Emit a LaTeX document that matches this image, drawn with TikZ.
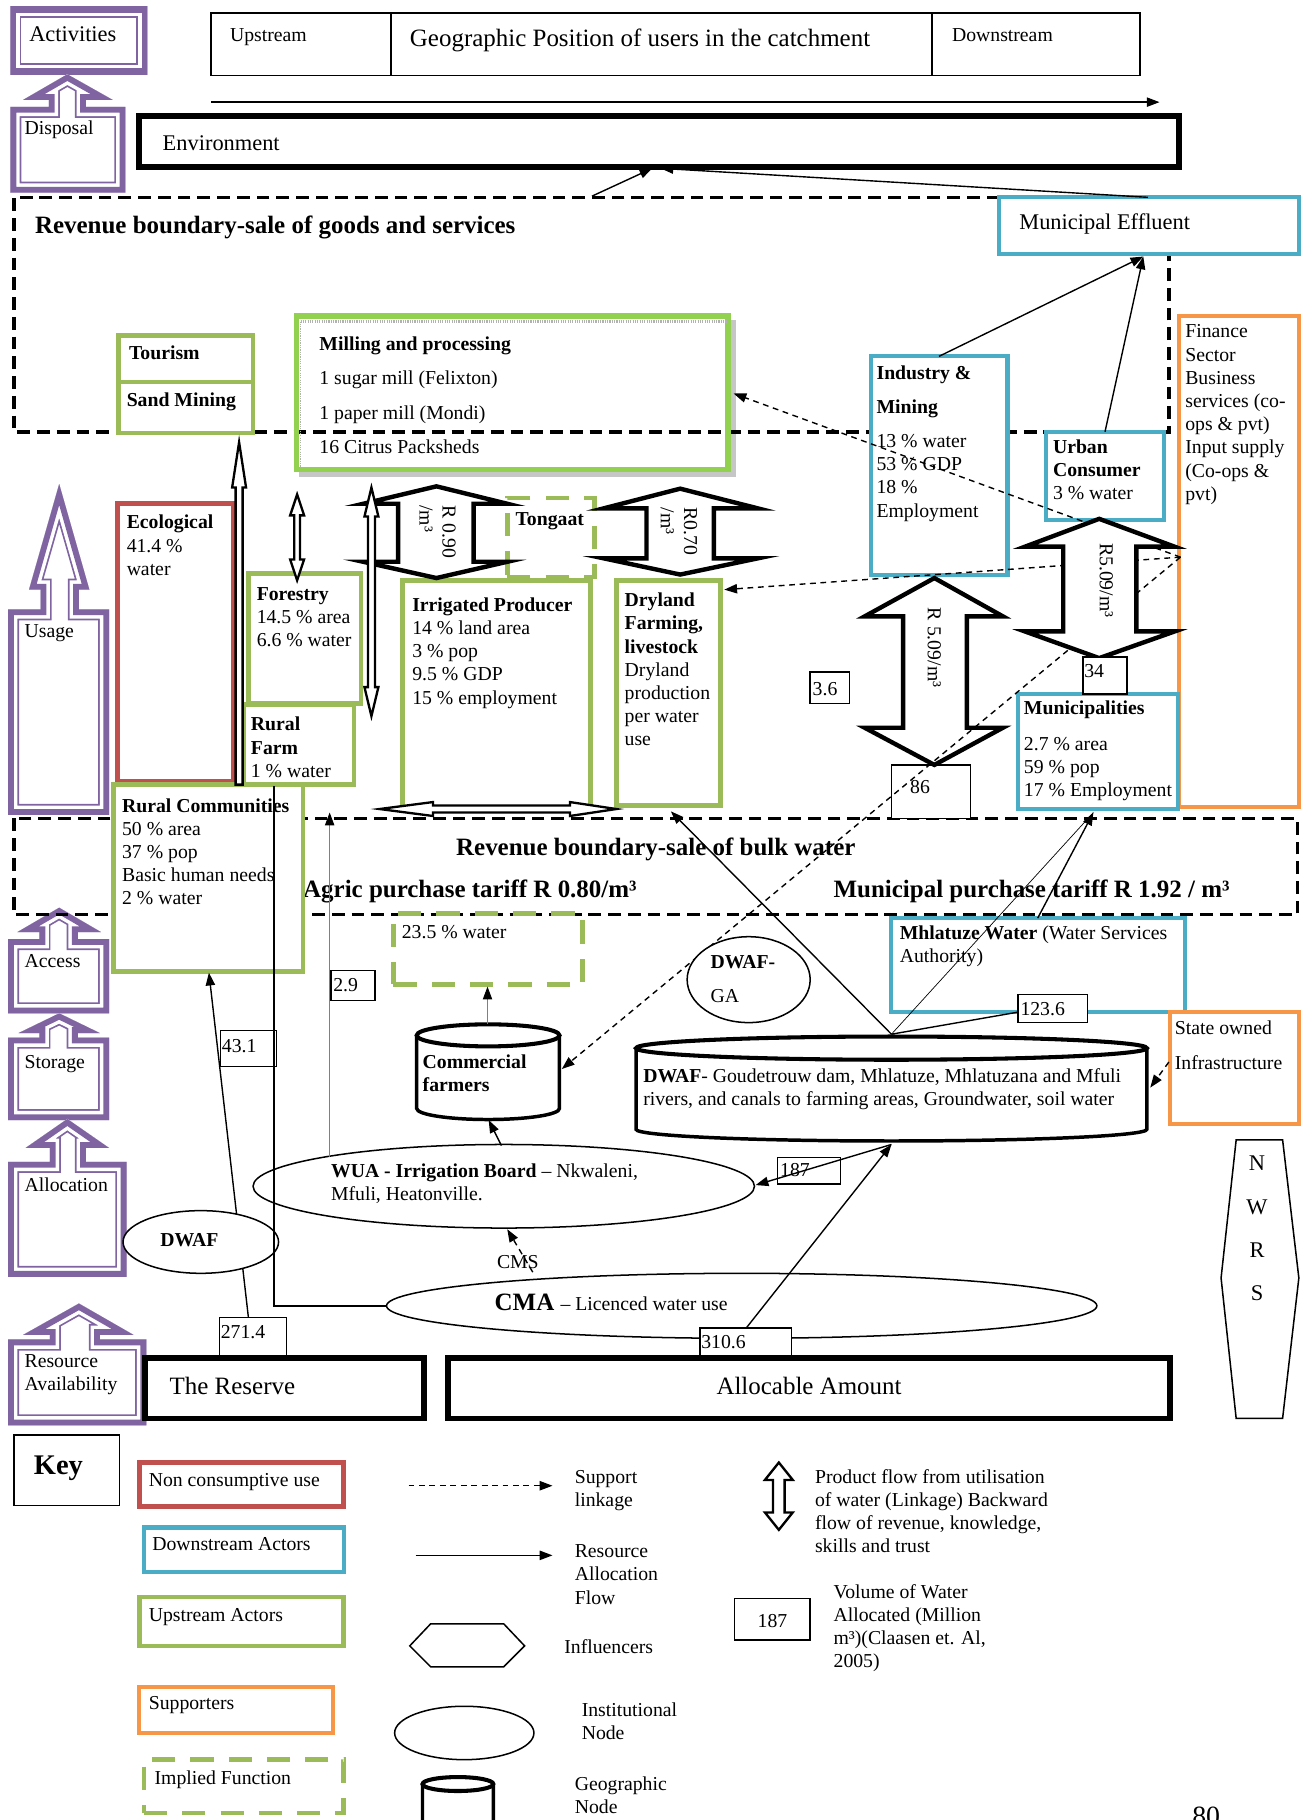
\documentclass[tikz,border=0pt]{standalone}
\usepackage{fontspec}
\setmainfont{Liberation Serif}
\usetikzlibrary{arrows.meta,shapes.geometric}

\definecolor{purp}{HTML}{8064A2}
\definecolor{nonred}{HTML}{C0504D}
\definecolor{downcyan}{HTML}{4BACC6}
\definecolor{upgreen}{HTML}{9BBB59}
\definecolor{millgreen}{HTML}{92D050}
\definecolor{suporange}{HTML}{F79646}

\newcommand\bodyfs{\fontsize{17}{20}\selectfont}
\newcommand\midfs{\fontsize{19.3}{23}\selectfont}
\newcommand\bigfs{\fontsize{21.5}{26}\selectfont}
\newcommand\keyfs{\fontsize{24.5}{29}\selectfont}

% purple double frame (thick outer line, thin inner line), kept inside the shape
\newcommand\purpleframe[1]{%
  \begin{scope}
    \clip #1;
    \fill[white] #1;
    \draw[purp, line width=19pt, miter limit=20] #1;
    \draw[white, line width=16pt, miter limit=20] #1;
    \draw[purp, line width=10pt, miter limit=20] #1;
  \end{scope}}

% upright drum: x1, x2, centre y of top ellipse, centre y of bottom arc, y radius
\newcommand\drumshape[5]{%
  \pgfmathsetmacro\drumrx{(#2-#1)/2}%
  \pgfmathsetmacro\drumcx{(#1+#2)/2}%
  \filldraw[fill=white, line width=3pt] (#1,#3) -- (#1,#4)
     arc[start angle=180, end angle=0, x radius=\drumrx, y radius=#5] -- (#2,#3);
  \draw[line width=3.5pt, fill=white] (\drumcx,#3) ellipse[x radius=\drumrx, y radius=#5];}

\tikzset{
  frame/.style={rectangle, anchor=north west, inner sep=0pt, outer sep=0pt, fill=white},
  upbox/.style={frame, draw=upgreen, line width=4pt},
  downbox/.style={frame, draw=downcyan, line width=3.5pt},
  nonbox/.style={frame, draw=nonred, line width=4pt},
  supbox/.style={frame, draw=suporange, line width=3.5pt},
  impbox/.style={frame, fill=none, draw=upgreen, line width=4pt, dash pattern=on 20pt off 13pt},
  volbox/.style={frame, draw=black, line width=1.2pt},
  thickbox/.style={frame, draw=black, line width=5pt},
  tbase/.style={anchor=north west, inner sep=0pt, align=left, execute at begin node=\strut},
  txt/.style={tbase, font=\bodyfs, yshift=8.4pt},
  txtm/.style={tbase, font=\bodyfs, yshift=5.4pt},
  midtxt/.style={tbase, font=\midfs, yshift=9.7pt},
  bigtxt/.style={tbase, font=\bigfs, yshift=10.2pt},
  keytxt/.style={tbase, font=\keyfs, yshift=12.2pt},
  rtxt/.style={font=\bodyfs, inner sep=0pt, align=left, rotate=-90, anchor=center},
  flow/.style={line width=1.2pt, -{Triangle[length=11pt, width=8pt]}},
  thinflow/.style={draw=gray, line width=0.8pt, -{Triangle[length=11pt, width=8pt, color=black]}},
  support/.style={line width=1.2pt, dash pattern=on 5pt off 4pt, -{Triangle[length=11pt, width=8pt]}},
  boundary/.style={line width=3pt, dash pattern=on 11pt off 6pt},
  hollow/.style={draw, fill=white, line width=2pt, line join=miter},
  bigarrow/.style={draw, fill=white, line width=3.8pt, line join=miter},
  inst/.style={draw, ellipse, line width=1.3pt, fill=white, inner sep=0pt},
}

\begin{document}
\begin{tikzpicture}[x=1pt, y=-1pt]
\useasboundingbox (0,0) rectangle (1126,1568);
\fill[white] (0,0) rectangle (1126,1568);

% ---------------- header: position in the catchment
\node[frame, draw, line width=1.3pt, minimum width=155pt, minimum height=54pt] (posup) at (182,11) {};
\node[frame, draw, line width=1.3pt, minimum width=466pt, minimum height=54pt] (posmid) at (337,11) {};
\node[frame, draw, line width=1.3pt, minimum width=179pt, minimum height=54pt] (posdown) at (803,11) {};
\node[txt] (upstreamlbl) at (198,30) {Upstream};
\node[bigtxt] (geolbl) at (353,32) {Geographic Position of users in the catchment};
\node[txt] (downstreamlbl) at (820,30) {Downstream};
\coordinate (flowW) at (182,88);
\coordinate (flowE) at (999,88);
\draw[flow] (flowW) -- (flowE);

\node[thickbox, minimum width=896pt, minimum height=44pt] (env) at (120,100) {};
\node[midtxt] (envlbl) at (140,123) {Environment};

% ---------------- purple activity ladder
\purpleframe{(9,6) rectangle (127,64)}
\node[midtxt] (actlbl) at (25,29) {Activities};
\purpleframe{(9,166) -- (9,92) -- (42,92) -- (42,86) -- (20,86) -- (58,64) -- (97,86) -- (74,86) -- (74,92) -- (108,92) -- (108,166) -- cycle}
\node[txt] (displbl) at (21,110) {Disposal};
\purpleframe{(7,702) -- (7,525) -- (35,525) -- (35,508) -- (25,508) -- (51,417) -- (77,508) -- (68,508) -- (68,525) -- (94,525) -- (94,702) -- cycle}
\node[txt] (usagelbl) at (21,543) {Usage};
\purpleframe{(7,873) -- (7,809) -- (34,809) -- (34,803) -- (15,803) -- (51,782) -- (87,803) -- (67,803) -- (67,809) -- (94,809) -- (94,873) -- cycle}
\node[txt] (accesslbl) at (21,828) {Access};
\purpleframe{(7,965) -- (7,894) -- (34,894) -- (34,890) -- (16,890) -- (51,873) -- (86,890) -- (67,890) -- (67,894) -- (94,894) -- (94,965) -- cycle}
\node[txt] (storagelbl) at (21,915) {Storage};
\purpleframe{(7,1100) -- (7,1001) -- (43,1001) -- (43,989) -- (22,989) -- (58,964) -- (94,989) -- (74,989) -- (74,1001) -- (109,1001) -- (109,1100) -- cycle}
\node[txt] (alloclbl) at (21,1021) {Allocation};
\purpleframe{(7,1228) -- (7,1154) -- (43,1154) -- (43,1150) -- (20,1150) -- (68,1123) -- (115,1150) -- (86,1150) -- (86,1154) -- (126,1154) -- (126,1228) -- cycle}
\node[txtm] (resavlbl) at (21,1172) {Resource\\Availability};

% ---------------- milling block (shadow and fill under the boundary lines)
\fill[gray!45] (258,276) rectangle (634,411);
\fill[white] (255,272) rectangle (628,405);

% ---------------- revenue boundaries
\draw[boundary] (861,170) -- (12,170) -- (12,372) -- (1007,372) -- (1007,218);
\draw[boundary] (12,705) rectangle (1118,788);
\node[bigtxt] (goodslbl) at (30,193) {\textbf{Revenue boundary-sale of goods and services}};
\node[bigtxt, anchor=north] (bulklbl) at (565,729) {\textbf{Revenue boundary-sale of bulk water}};
\node[bigtxt] (agriclbl) at (261,765) {\textbf{Agric purchase tariff R 0.80/m³}};
\node[bigtxt] (munitarlbl) at (718,765) {\textbf{Municipal purchase tariff R 1.92 / m³}};

\node[frame, fill=none, draw=millgreen, line width=5pt, minimum width=372pt, minimum height=132pt] (mill) at (255.5,272.5) {};
\draw[gray!60, line width=3pt, dash pattern=on 1pt off 1pt] (259,277) -- (626,277);
\draw[gray!60, line width=1pt, dash pattern=on 1pt off 1pt] (259,277) -- (259,403);
\node[txtm] (milllbl) at (275,295) {\textbf{Milling and processing}\\[9.7pt]1 sugar mill (Felixton)\\[9.7pt]1 paper mill (Mondi)\\[9.7pt]16 Citrus Packsheds};

% ---------------- actors
\node[upbox, minimum width=116pt, minimum height=40pt] (tourism) at (102,289) {};
\node[txt] (tourismlbl) at (111,304) {\textbf{Tourism}};
\node[upbox, minimum width=116pt, minimum height=44pt] (sand) at (102,329) {};
\node[txt] (sandlbl) at (109,344) {\textbf{Sand Mining}};

\node[downbox, minimum width=258pt, minimum height=49pt] (effluent) at (861,170) {};
\node[midtxt] (effluentlbl) at (878,191) {Municipal Effluent};

\node[downbox, minimum width=118pt, minimum height=188pt] (industry) at (750,307) {};
\node[txtm] (industrylbl) at (755,320) {\textbf{Industry \&}\\[10pt]\textbf{Mining}\\[9pt]13 \% water\\53 \% GDP\\18 \%\\Employment};

\node[downbox, minimum width=102pt, minimum height=76pt] (urban) at (901,372) {};
\node[txtm] (urbanlbl) at (907,384) {\textbf{Urban}\\\textbf{Consumer}\\3 \% water};

\node[supbox, minimum width=103pt, minimum height=423pt] (finance) at (1016,272) {};
\node[txtm] (financelbl) at (1021,285) {Finance\\Sector\\Business\\services (co-\\ops \& pvt)\\Input supply\\(Co-ops \&\\pvt)};

\node[nonbox, minimum width=100pt, minimum height=239pt] (eco) at (101,434) {};
\node[txtm] (ecolbl) at (109,449) {\textbf{Ecological}\\41.4 \%\\water};

\node[upbox, minimum width=97pt, minimum height=112pt] (forestry) at (214,494) {};
\node[txtm] (forestrylbl) at (221,511) {\textbf{Forestry}\\14.5 \% area\\6.6 \% water};

\node[upbox, minimum width=95pt, minimum height=69pt] (ruralfarm) at (210,607) {};
\node[txtm] (ruralfarmlbl) at (216,623) {\textbf{Rural}\\\textbf{Farm}\\1 \% water};

\node[upbox, minimum width=162pt, minimum height=196pt] (irrig) at (347,500) {};
\node[txtm] (irriglbl) at (355,520) {\textbf{Irrigated Producer}\\14 \% land area\\3 \% pop\\9.5 \% GDP\\15 \% employment};

\node[upbox, minimum width=90pt, minimum height=194pt] (dryland) at (531,500) {};
\node[txtm] (drylandlbl) at (538,516) {\textbf{Dryland}\\\textbf{Farming,}\\\textbf{livestock}\\Dryland\\production\\per water\\use};

\node[impbox, minimum width=75pt, minimum height=68pt] (tongaat) at (437,429) {};
\node[txt] (tongaatlbl) at (444,447) {\textbf{Tongaat}};

\node[upbox, minimum width=163pt, minimum height=161pt] (ruralcom) at (98,676) {};
\node[txtm] (ruralcomlbl) at (105,693) {\textbf{Rural Communities}\\50 \% area\\37 \% pop\\Basic human needs\\2 \% water};

\node[downbox, minimum width=138pt, minimum height=99pt] (munic) at (877,598) {};
\node[txtm] (municlbl) at (882,609) {\textbf{Municipalities}\\[11pt]2.7 \% area\\59 \% pop\\17 \% Employment};

\node[downbox, minimum width=253pt, minimum height=81pt] (mhlatuze) at (768,791) {};
\node[txtm] (mhlatuzelbl) at (775,803) {\textbf{Mhlatuze Water} (Water Services\\Authority)};

\node[supbox, minimum width=111pt, minimum height=96pt] (stateinf) at (1008,872) {};
\node[txtm] (stateinflbl) at (1012,885) {State owned\\[10pt]Infrastructure};

\node[impbox, minimum width=163pt, minimum height=61pt] (impwater) at (339,787) {};
\node[txt] (impwaterlbl) at (346,803) {23.5 \% water};

% ---------------- volume boxes
\node[volbox, minimum width=34pt, minimum height=27pt] (v36) at (698,579) {};
\node[txt] (v36lbl) at (700,593) {3.6};
\node[volbox, minimum width=68pt, minimum height=46pt] (v86) at (768,659) {};
\node[txt] (v86lbl) at (784,678) {86};

% ---------------- product-flow block arrows (under the support lines)
\draw[bigarrow] (805,498) -- (864,531) -- (833,531) -- (833,627) -- (864,627) -- (805,659) -- (745,627) -- (778,627) -- (778,531) -- (745,531) -- cycle;
\node[rtxt] (r509a) at (805,558) {R 5.09/m³};
\draw[bigarrow] (376,419) -- (437,434) -- (408,434) -- (408,484) -- (437,484) -- (376,498) -- (313,484) -- (343,484) -- (343,434) -- (313,434) -- cycle;
\node[rtxt] (r090) at (377,458) {R 0.90\\/m³};
\draw[bigarrow] (586,421) -- (653,438) -- (615,438) -- (615,481) -- (653,481) -- (586,495) -- (520,481) -- (557,481) -- (557,438) -- (520,438) -- cycle;
\node[rtxt] (r070) at (585,458) {R0.70\\/m³};

\draw[hollow] (206,381) -- (212,420) -- (209,420) -- (209,676) -- (203,676) -- (203,420) -- (200,420) -- cycle;
\draw[hollow] (256,426) -- (262,444) -- (258.5,444) -- (258.5,482) -- (262,482) -- (256,500) -- (250,482) -- (253.5,482) -- (253.5,444) -- (250,444) -- cycle;
\draw[hollow] (320,420) -- (326,445) -- (323,445) -- (323,592) -- (326,592) -- (320,617) -- (314,592) -- (317,592) -- (317,445) -- (314,445) -- cycle;
\draw[hollow] (327,697) -- (373,691) -- (373,694) -- (491,694) -- (491,691) -- (531,697) -- (491,703) -- (491,700) -- (373,700) -- (373,703) -- cycle;

% ---------------- geographic nodes
\drumshape{359}{482}{892}{955}{9.5}
\coordinate (comTop) at (420,882);
\coordinate (comBot) at (421,965);
\coordinate (comR) at (484,921);
\node[txtm] (comlbl) at (364,914) {\textbf{Commercial}\\\textbf{farmers}};

\drumshape{548}{988}{903}{973}{10}
\coordinate (drumTop) at (768,891);
\coordinate (drumBot) at (768,986);
\coordinate (drumR) at (991,937);
\node[txtm] (drumlbl) at (554,926) {\textbf{DWAF}- Goudetrouw dam, Mhlatuze, Mhlatuzana and Mfuli\\rivers, and canals to farming areas, Groundwater, soil water};

% ---------------- support linkages
\coordinate (finL) at (1017,480);
\coordinate (millR) at (632,339);
\coordinate (dryR) at (624,508);
\draw[support] (finL) -- (millR);
\draw[support] (finL) -- (dryR);
\draw[support] (finL) -- (comR);
\coordinate (stateL) at (1007,915);
\draw[support] (stateL) -- (drumR);

\draw[bigarrow] (947,447) -- (1012,471) -- (979,471) -- (979,544) -- (1012,544) -- (947,567) -- (883,544) -- (916,544) -- (916,471) -- (883,471) -- cycle;
\node[rtxt] (r509b) at (953,500) {R5.09/m³};
\node[volbox, minimum width=38pt, minimum height=32pt] (v34) at (933,566) {};
\node[txt] (v34lbl) at (934,578) {34};

% ---------------- institutional nodes
\coordinate (resTop) at (214,1135);
\coordinate (rcBot) at (180,838);
\draw[flow] (resTop) -- (rcBot);
\node[inst, minimum width=106pt, minimum height=74pt] (dwafga) at (645,844) {};
\node[txtm] (dwafgalbl) at (612,828) {\textbf{DWAF-}\\[10pt]GA};
\node[inst, minimum width=432pt, minimum height=72pt] (wua) at (434,1022) {};
\node[txtm] (wualbl) at (285,1008) {\textbf{WUA - Irrigation Board} – Nkwaleni,\\Mfuli, Heatonville.};
\node[inst, minimum width=134pt, minimum height=54pt] (dwaf) at (173,1070) {};
\node[txt] (dwaflbl) at (138,1068) {\textbf{DWAF}};
\node[inst, minimum width=612pt, minimum height=56pt] (cma) at (639,1125) {};
\node[bigtxt] (cmalbl) at (426,1121) {\textbf{CMA} {\bodyfs – Licenced water use}};
\node[txt] (cmslbl) at (428,1087) {CMS};

\node[volbox, minimum width=48pt, minimum height=31pt] (v431) at (190,888) {};
\node[txt] (v431lbl) at (191,901) {43.1};
\node[volbox, minimum width=38pt, minimum height=26pt] (v29) at (285,836) {};
\node[txt] (v29lbl) at (287,848) {2.9};
\node[volbox, minimum width=58pt, minimum height=34pt] (v2714) at (189,1135) {};
\node[txt] (v2714lbl) at (190,1147) {271.4};
\node[volbox, minimum width=79pt, minimum height=25pt] (v3106) at (603,1144) {};
\node[txt] (v3106lbl) at (604,1156) {310.6};
\node[volbox, minimum width=60pt, minimum height=24pt] (v1236) at (877,857) {};
\node[txt] (v1236lbl) at (879,869) {123.6};
\node[volbox, minimum width=54pt, minimum height=23pt] (v187) at (670,997) {};
\node[txt] (v187lbl) at (672,1008) {187};

% ---------------- resource allocation flows
\coordinate (goodsTop) at (510,169);
\coordinate (envA) at (562,145);
\coordinate (envB) at (569,145);
\coordinate (effTop) at (989,170);
\coordinate (effBot) at (985,221);
\draw[flow] (goodsTop) -- (envA);
\draw[flow] (effTop) -- (envB);
\draw[flow] (industry.north) -- (effBot);
\draw[flow] (urban.north) -- (effBot);

\coordinate (dryBot) at (578,699);
\coordinate (municBot) at (942,700);
\coordinate (mhlTop) at (894,791);
\coordinate (v1236W) at (877,872);
\draw[flow] (drumTop) -- (dryBot);
\draw[line width=0.6pt] (drumTop) -- (municBot);
\draw[flow] (mhlTop) -- (municBot);
\draw[line width=1.2pt] (drumTop) -- (v1236W);

\coordinate (wuaR) at (651,1021);
\coordinate (allocTop) at (643,1144);
\draw[flow] (drumBot) -- (wuaR);
\draw[flow] (allocTop) -- (drumBot);
\coordinate (wuaTop) at (432,987);
\draw[flow] (wuaTop) -- (comBot);
\coordinate (impBot) at (420,850);
\draw[thinflow] (comTop) -- (impBot);
\coordinate (cmsFoot) at (459,1096);
\coordinate (wuaBot) at (437,1059);
\draw[support] (cmsFoot) -- (wuaBot);

\coordinate (wuaTopL) at (284,997);
\coordinate (farmBelow) at (284,700);
\draw[thinflow] (wuaTopL) -- (farmBelow);
\coordinate (rcTopIn) at (236,677);
\draw[line width=1.2pt] (cma.west) -| (rcTopIn);

% ---------------- reserve and allocable amount
\node[thickbox, minimum width=240pt, minimum height=52pt] (reserve) at (125,1170) {};
\node[bigtxt] (reservelbl) at (146,1193) {The Reserve};
\node[thickbox, minimum width=622pt, minimum height=52pt] (allocable) at (386,1170) {};
\node[bigtxt, anchor=north] (allocablelbl) at (697,1193) {Allocable Amount};

% ---------------- influencer: NWRS
\draw[line width=1.3pt] (1065,982) -- (1105,982) -- (1119,1101) -- (1105,1222) -- (1065,1222) -- (1052,1101) -- cycle;
\node[midtxt, anchor=north] (nwrsN) at (1083,1002) {N};
\node[midtxt, anchor=north] (nwrsW) at (1083,1040) {W};
\node[midtxt, anchor=north] (nwrsR) at (1083,1077) {R};
\node[midtxt, anchor=north] (nwrsS) at (1083,1114) {S};

% ---------------- key
\node[volbox, line width=1.5pt, minimum width=91pt, minimum height=61pt] (keybox) at (12,1236) {};
\node[keytxt] (keylbl) at (29,1262) {\textbf{Key}};
\node[nonbox, minimum width=176pt, minimum height=38pt] (knon) at (120,1260) {};
\node[txt] (knonlbl) at (128,1275) {Non consumptive use};
\node[downbox, minimum width=172pt, minimum height=38pt] (kdown) at (124,1316) {};
\node[txt] (kdownlbl) at (131,1330) {Downstream Actors};
\node[upbox, minimum width=176pt, minimum height=42pt] (kup) at (120,1376) {};
\node[txt] (kuplbl) at (128,1391) {Upstream Actors};
\node[supbox, minimum width=167pt, minimum height=40pt] (ksup) at (120,1453) {};
\node[txt] (ksuplbl) at (128,1467) {Supporters};
\node[impbox, minimum width=172pt, minimum height=46pt] (kimp) at (124,1516) {};
\node[txt] (kimplbl) at (133,1532) {Implied Function};

\coordinate (ksupW) at (352,1280);
\coordinate (ksupE) at (476,1280);
\draw[support] (ksupW) -- (ksupE);
\node[txtm] (ksupportlbl) at (495,1272) {Support\\linkage};
\coordinate (kflowW) at (358,1340);
\coordinate (kflowE) at (476,1340);
\draw[flow] (kflowW) -- (kflowE);
\node[txtm] (kflowlbl) at (495,1336) {Resource\\Allocation\\Flow};
\draw[line width=1.3pt] (353,1418) -- (371,1399) -- (434,1399) -- (452,1418) -- (434,1436) -- (371,1436) -- cycle;
\node[txt] (kinfllbl) at (486,1419) {Influencers};
\node[inst, minimum width=120pt, minimum height=46pt] (kinst) at (400,1493) {};
\node[txtm] (kinstlbl) at (501,1472) {Institutional\\Node};
\drumshape{364}{425}{1537}{1600}{6}
\node[txtm] (kgeolbl) at (495,1536) {Geographic\\Node};

\draw[hollow] (671,1260) -- (683,1275) -- (676,1275) -- (676,1303) -- (683,1303) -- (671,1318) -- (659,1303) -- (666,1303) -- (666,1275) -- (659,1275) -- cycle;
\node[txtm] (kprodlbl) at (702,1271) {Product flow from utilisation\\of water (Linkage) Backward\\flow of revenue, knowledge,\\skills and trust};
\node[volbox, minimum width=65pt, minimum height=36pt] (kvol) at (633,1377) {};
\node[txt, anchor=north] (kvolnum) at (665.5,1396) {187};
\node[txtm] (kvollbl) at (718,1370) {Volume of Water\\Allocated (Million\\m³)(Claasen et. Al,\\2005)};

\node[tbase, font=\fontsize{24}{29}\selectfont, yshift=12pt] (pagenum) at (1027,1564) {80};
\end{tikzpicture}
\end{document}
